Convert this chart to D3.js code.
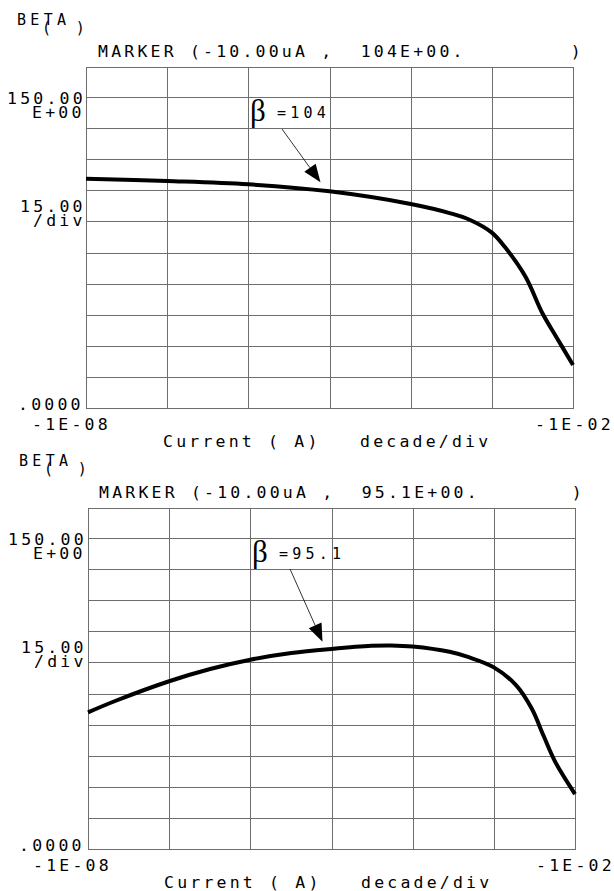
<!DOCTYPE html>
<html>
<head>
<meta charset="utf-8">
<script src="https://cdn.jsdelivr.net/npm/d3@7"></script>
<style>
body { margin: 0; background: #fff; }
svg text { font-family: "DejaVu Sans Mono", monospace; fill: #000; white-space: pre; }
</style>
</head>
<body>
<svg id="canvas" width="614" height="891"></svg>
<script>
// decades along the x axis (current magnitude, A)
let decades = [1e-8, 1e-7, 1e-6, 1e-5, 1e-4, 1e-3, 1e-2]
let betaGrid = [0, 15, 30, 45, 60, 75, 90, 105, 120, 135, 150]

// top trace
let topCurrent = [1e-8, 1e-7, 1e-6, 1e-5, 1e-4, 3.1e-4, 5.4e-4, 1e-3, 1.45e-3, 2.6e-3, 4.2e-3, 6.2e-3, 1e-2]
let topBeta = [110.6, 109.5, 107.9, 104.5, 98.4, 93.9, 90.7, 84.6, 77.6, 63.3, 45.7, 34.4, 20.7]

// bottom trace
let botCurrent = [1e-8, 2.2e-8, 1e-7, 3.2e-7, 1e-6, 3.2e-6, 1e-5, 3.1e-5, 5.4e-5, 1e-4, 2.85e-4, 4.9e-4, 1e-3, 1.9e-3, 2.95e-3, 4.1e-3, 5.75e-3, 1e-2]
let botBeta = [65.9, 71.5, 80.9, 86.8, 91.3, 94.5, 96.5, 98.0, 98.2, 97.7, 95.1, 92.5, 87.6, 78.8, 67.5, 54.6, 41.8, 26.5]

let markerCurrent = 1e-5
let markerBeta = [104, 95.1]
let markerText = ['MARKER (-10.00uA ,  104E+00.        )', 'MARKER (-10.00uA ,  95.1E+00.       )']
let betaLabel = ['=104', '=95.1']
let yLabelsTop = ['150.00', 'E+00']
let yLabelsMid = ['15.00', '/div']
let yLabelBottom = '.0000'
let xLabels = ['-1E-08', '-1E-02']
let xTitle = 'Current ( A)   decade/div'

let canvas = d3.select('#canvas')

let panels = [
    { current: topCurrent, beta: topBeta, marker: markerBeta[0], markerLine: markerText[0], label: betaLabel[0], dx: 0, dy: 0, tdx: 0, arrowFrom: [282, 129] },
    { current: botCurrent, beta: botBeta, marker: markerBeta[1], markerLine: markerText[1], label: betaLabel[1], dx: 2, dy: 441, tdx: -1, arrowFrom: [288, 128] }
]

let left = 86, right = 573, boxTop = 67, y150 = 97, bottom = 408

let drawPanel = (p) => {
    let g = canvas.append('g').attr('transform', 'translate(' + p.dx + ',' + p.dy + ')')

    let x = d3.scaleLog().domain([1e-8, 1e-2]).range([left, right])
    let y = d3.scaleLinear().domain([0, 150]).range([bottom, y150])

    // grid
    let grid = g.append('g')
                .attr('stroke', '#6e6e6e')
                .attr('stroke-width', 1)
                .attr('shape-rendering', 'crispEdges')
    grid.selectAll('.h')
        .data(betaGrid)
        .enter()
        .append('line')
        .attr('x1', left).attr('x2', right)
        .attr('y1', (v) => Math.round(y(v)) + 0.5)
        .attr('y2', (v) => Math.round(y(v)) + 0.5)
    grid.append('line')
        .attr('x1', left).attr('x2', right)
        .attr('y1', boxTop + 0.5).attr('y2', boxTop + 0.5)
    grid.selectAll('.v')
        .data(decades)
        .enter()
        .append('line')
        .attr('x1', (c) => Math.round(x(c)) + 0.5)
        .attr('x2', (c) => Math.round(x(c)) + 0.5)
        .attr('y1', boxTop).attr('y2', bottom + 1)

    // trace
    let pts = p.current.map((c, i) => [c, p.beta[i]])
    let line = d3.line()
                 .x((d) => x(d[0]))
                 .y((d) => y(d[1]))
                 .curve(d3.curveCatmullRom.alpha(0.5))
    g.append('path')
     .attr('d', line(pts))
     .attr('fill', 'none')
     .attr('stroke', '#000')
     .attr('stroke-width', 4)
     .attr('stroke-linejoin', 'round')

    // header texts
    g.append('text').text('BETA')
     .attr('x', 17).attr('y', 25)
     .style('font-size', '15px').style('letter-spacing', '4.3px')
    g.append('text').text('( )')
     .attr('x', 42).attr('y', 33)
     .style('font-size', '15px').style('letter-spacing', '7.8px')
    g.append('text').text(p.markerLine)
     .attr('x', 98 + p.tdx).attr('y', 56.5)
     .style('font-size', '16.5px').style('letter-spacing', '3.2px')

    // y labels
    let big = (t, tx, ty) => {
        g.append('text').text(t)
         .attr('x', tx + p.tdx).attr('y', ty)
         .style('font-size', '16.5px').style('letter-spacing', '3.2px')
    }
    big(yLabelsTop[0], 7, 103.5)
    big(yLabelsTop[1], 32, 118)
    big(yLabelsMid[0], 20, 211.5)
    big(yLabelsMid[1], 33, 226)
    big(yLabelBottom, 18, 410)

    // x labels
    big(xLabels[0], 32, 430)
    big(xLabels[1], 535, 430)
    big(xTitle, 163, 447)

    // beta annotation
    g.append('text').text('\u03b2')
     .attr('x', 250).attr('y', 121)
     .style('font-family', '"Liberation Serif", serif')
     .style('font-size', '31px')
    g.append('text').text(p.label)
     .attr('x', 277).attr('y', 118)
     .style('font-size', '15px').style('letter-spacing', '4.2px')

    // arrow to the marker point
    let tip = [x(markerCurrent) - 9, y(p.marker) - 10]
    let from = p.arrowFrom
    let len = Math.hypot(tip[0] - from[0], tip[1] - from[1])
    let u = [(tip[0] - from[0]) / len, (tip[1] - from[1]) / len]
    let n = [-u[1], u[0]]
    let headLen = 18, headW = 7
    let base = [tip[0] - u[0] * headLen, tip[1] - u[1] * headLen]
    g.append('line')
     .attr('x1', from[0]).attr('y1', from[1])
     .attr('x2', base[0]).attr('y2', base[1])
     .attr('stroke', '#000').attr('stroke-width', 0.8)
    g.append('path')
     .attr('d', 'M' + tip + 'L' + [base[0] + n[0] * headW, base[1] + n[1] * headW] +
                'L' + [base[0] - n[0] * headW, base[1] - n[1] * headW] + 'Z')
     .attr('fill', '#000')
}

panels.forEach(drawPanel)
</script>
</body>
</html>
